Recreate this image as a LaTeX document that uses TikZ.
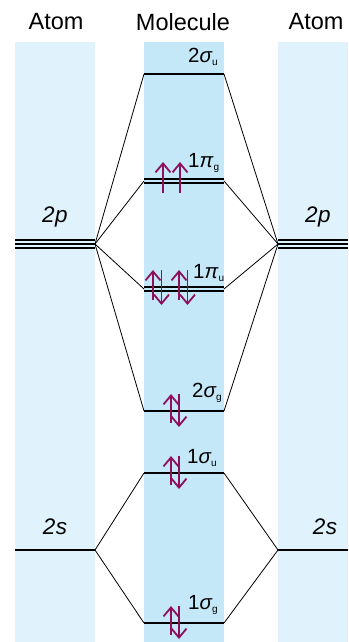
\documentclass[tikz,border=0pt]{standalone}
\usepackage{fontspec}
\setmainfont{Liberation Sans}
\usetikzlibrary{arrows.meta}
\definecolor{atomcol}{HTML}{E0F3FC}
\definecolor{molcol}{HTML}{C4E8F8}
\definecolor{spin}{HTML}{8E0F5C}
\begin{document}
\begin{tikzpicture}[x=1pt,y=-1pt,
  head/.style={font=\fontsize{23.5}{26}\selectfont, anchor=center},
  atlab/.style={font=\fontsize{22.5}{25}\selectfont\itshape, anchor=center},
  mollab/.style={font=\fontsize{20.5}{23}\selectfont, anchor=base west, inner sep=0pt},
  level/.style={line width=2.7pt, black},
  dlevel/.style={line width=1.9pt, black},
  conn/.style={line width=0.8pt, black},
  spinarr/.style={spin, line width=1.8pt, -{Straight Barb[length=9pt,width=15pt,line width=1.8pt]}}
]
\useasboundingbox (0,0) rectangle (348,642);
% columns
\fill[atomcol] (15,42) rectangle (95,642);
\fill[molcol] (144,42) rectangle (224,642);
\fill[atomcol] (278,42) rectangle (348,642);
% headers
\node[head] (hl) at (56,22) {Atom};
\node[head] (hm) at (183,22) {Molecule};
\node[head] (hr) at (316,22) {Atom};
% atomic levels coordinates
\coordinate (Lp0) at (15,244); \coordinate (Lp) at (95,244);
\coordinate (Rp) at (278,244); \coordinate (Rp1) at (348,244);
\coordinate (Ls0) at (15,550); \coordinate (Ls) at (95,550);
\coordinate (Rs) at (278,550); \coordinate (Rs1) at (348,550);
% molecular level coordinates
\foreach \n/\y in {su2/74, pg/181, pu/289, sg2/411, su1/473, sg1/623}{
  \coordinate (\n L) at (144,\y); \coordinate (\n R) at (224,\y);
}
% connectors
\foreach \n in {su2,pg,pu,sg2}{
  \draw[conn] (Lp) -- (\n L);
  \draw[conn] (Rp) -- (\n R);
}
\foreach \n in {su1,sg1}{
  \draw[conn] (Ls) -- (\n L);
  \draw[conn] (Rs) -- (\n R);
}
% atomic 2p triple lines
\foreach \d in {-3.7,0,3.7}{
  \draw[line width=1.9pt] ([yshift=\d pt]Lp0) -- ([yshift=\d pt]Lp);
  \draw[line width=1.9pt] ([yshift=\d pt]Rp) -- ([yshift=\d pt]Rp1);
}
\draw[level] (Ls0) -- (Ls);
\draw[level] (Rs) -- (Rs1);
% molecular levels
\foreach \n in {su2,sg2,su1,sg1}{ \draw[level] (\n L) -- (\n R); }
\foreach \n in {pg,pu}{
  \draw[dlevel] ([yshift=-1.6pt]\n L) -- ([yshift=-1.6pt]\n R);
  \draw[dlevel] ([yshift=1.6pt]\n L) -- ([yshift=1.6pt]\n R);
}
% labels
\node[atlab] (l2p) at (55,217) {2\kern0.5pt p};
\node[atlab] (r2p) at (318,217) {2\kern0.5pt p};
\node[atlab] (l2s) at (55,527) {2\kern0.5pt s};
\node[atlab] (r2s) at (325,527) {2\kern0.5pt s};
\newcommand{\sub}[1]{\raisebox{-3pt}{\fontsize{10}{11}\selectfont #1}}
\node[mollab] (t1) at (188,63) {2\textit{σ}\kern-0.5pt\sub{u}};
\node[mollab] (t2) at (188,167) {1\textit{π}\sub{g}};
\node[mollab] (t3) at (193,278) {1\textit{π}\sub{u}};
\node[mollab] (t4) at (192,397) {2\textit{σ}\kern-0.5pt\sub{g}};
\node[mollab] (t5) at (187,463) {1\textit{σ}\kern-0.5pt\sub{u}};
\node[mollab] (t6) at (188,609) {1\textit{σ}\kern-0.5pt\sub{g}};
% spins
\foreach \x in {163,180}{
  \coordinate (a) at (\x,193); \coordinate (b) at (\x,162);
  \draw[spinarr] (a) -- (b);
}
\foreach \x in {153,179}{
  \coordinate (a) at (\x,300); \coordinate (b) at (\x,270);
  \draw[spinarr] (a) -- (b);
  \coordinate (c) at (\x+8.5,270); \coordinate (d) at (\x+8.5,305);
  \draw[spinarr] (c) -- (d);
}
\foreach \y in {411,473,623}{
  \coordinate (a) at (171,\y+12); \coordinate (b) at (171,\y-17);
  \draw[spinarr] (a) -- (b);
  \coordinate (c) at (179,\y-17); \coordinate (d) at (179,\y+16);
  \draw[spinarr] (c) -- (d);
}
\end{tikzpicture}
\end{document}
